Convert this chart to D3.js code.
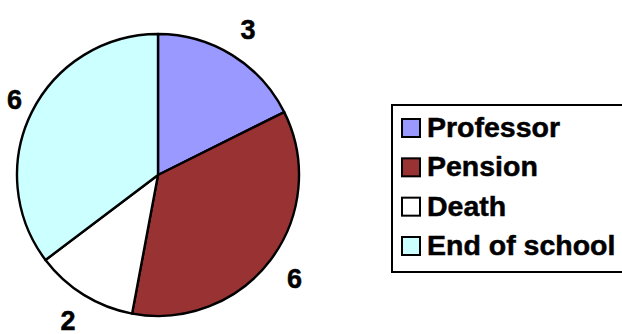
<!DOCTYPE html>
<html>
<head>
<meta charset="utf-8">
<script src="https://cdn.jsdelivr.net/npm/d3@7"></script>
<style>
  html, body { margin: 0; padding: 0; background: #fff; }
  svg { display: block; }
  text { font-family: "Liberation Sans", Arial, sans-serif; font-weight: bold; fill: #000; stroke: #000; stroke-width: 0.5px; }
</style>
</head>
<body>
<svg id="chart" width="622" height="334"></svg>
<script>
// Categories and their counts
const categories = ["Professor", "Pension", "Death", "End of school"];
const values = [3, 6, 2, 6];
const colors = ["#9999FF", "#993333", "#FFFFFF", "#CCFFFF"];

const width = 622, height = 334;
const cx = 158, cy = 175, radius = 141;
const labelRadius = 171;
const edgeMargin = 7;

const svg = d3.select("#chart");

const data = categories.map((c, i) => ({ name: c, value: values[i], color: colors[i] }));

const pie = d3.pie().value(d => d.value).sort(null);
const arcs = pie(data);

const arc = d3.arc().innerRadius(0).outerRadius(radius);
const labelArc = d3.arc().innerRadius(labelRadius).outerRadius(labelRadius);

const g = svg.append("g").attr("transform", `translate(${cx},${cy})`);

g.selectAll("path.slice")
  .data(arcs)
  .join("path")
  .attr("class", "slice")
  .attr("d", arc)
  .attr("fill", d => d.data.color)
  .attr("stroke", "#000")
  .attr("stroke-width", 2.4)
  .attr("stroke-linejoin", "round");

// Value labels outside each slice, kept inside the drawing area
g.selectAll("text.val")
  .data(arcs)
  .join("text")
  .attr("class", "val")
  .attr("text-anchor", "middle")
  .attr("dy", "0.36em")
  .style("font-size", "27px")
  .text(d => d.data.value)
  .each(function (d) {
    let [x, y] = labelArc.centroid(d);
    const half = this.getBBox().width / 2;
    const minX = edgeMargin + half - cx;
    if (x < minX) x = minX;
    d3.select(this).attr("transform", `translate(${x},${y})`);
  });

// Legend
const legend = svg.append("g");
const lx = 392, ly = 105, lw = 240, lh = 167;
legend.append("rect")
  .attr("x", lx).attr("y", ly)
  .attr("width", lw).attr("height", lh)
  .attr("fill", "#fff")
  .attr("stroke", "#000")
  .attr("stroke-width", 2);

const rowY = d3.scaleLinear().domain([0, categories.length - 1]).range([137, 255]);

const rows = legend.selectAll("g.row")
  .data(data)
  .join("g")
  .attr("class", "row")
  .attr("transform", (d, i) => `translate(0,${rowY(i)})`);

rows.append("rect")
  .attr("x", 402).attr("y", -18)
  .attr("width", 18).attr("height", 18)
  .attr("fill", d => d.color)
  .attr("stroke", "#000")
  .attr("stroke-width", 2);

rows.append("text")
  .attr("x", 427).attr("y", 0)
  .style("font-size", "28.5px")
  .text(d => d.name);
</script>
</body>
</html>
